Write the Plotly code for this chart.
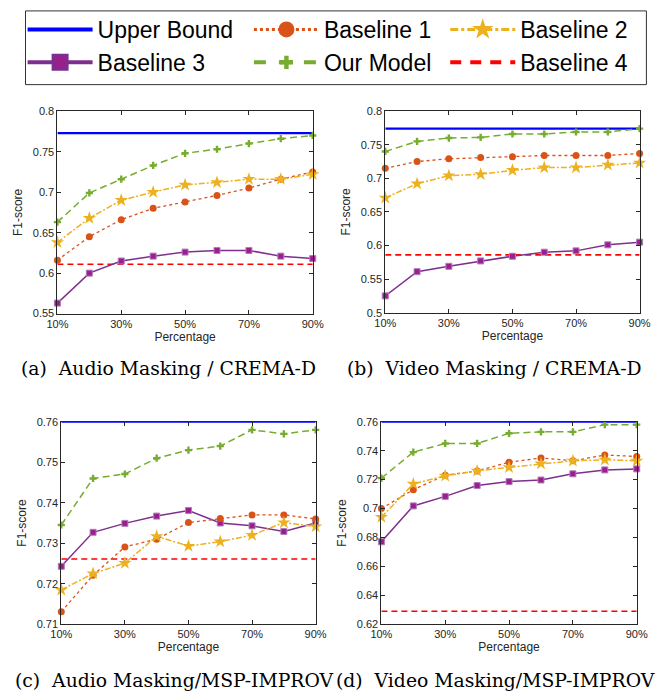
import plotly.graph_objects as go

# ---------------- data ----------------
pct = [10, 20, 30, 40, 50, 60, 70, 80, 90]
xtick_vals = [10, 30, 50, 70, 90]
xtick_text = ["10%", "30%", "50%", "70%", "90%"]

# (a) Audio Masking / CREMA-D
a_upper = 0.773
a_base1 = [0.616, 0.645, 0.666, 0.680, 0.688, 0.696, 0.705, 0.716, 0.725]
a_base2 = [0.638, 0.668, 0.690, 0.700, 0.709, 0.712, 0.716, 0.716, 0.722]
a_base3 = [0.563, 0.600, 0.615, 0.621, 0.626, 0.628, 0.628, 0.621, 0.618]
a_ours = [0.663, 0.699, 0.716, 0.733, 0.748, 0.753, 0.760, 0.766, 0.770]
a_base4 = 0.611

# (b) Video Masking / CREMA-D
b_upper = 0.774
b_base1 = [0.715, 0.725, 0.729, 0.731, 0.732, 0.734, 0.734, 0.734, 0.737]
b_base2 = [0.671, 0.692, 0.704, 0.706, 0.712, 0.716, 0.716, 0.720, 0.723]
b_base3 = [0.525, 0.561, 0.569, 0.577, 0.584, 0.590, 0.592, 0.601, 0.605]
b_ours = [0.740, 0.755, 0.760, 0.761, 0.766, 0.766, 0.769, 0.769, 0.774]
b_base4 = 0.586

# (c) Audio Masking / MSP-IMPROV
c_upper = 0.760
c_base1 = [0.7131, 0.7221, 0.7291, 0.7310, 0.7351, 0.7361, 0.7370, 0.7370, 0.7360]
c_base2 = [0.7185, 0.7225, 0.7251, 0.7317, 0.7293, 0.7304, 0.7320, 0.7351, 0.7341]
c_base3 = [0.7243, 0.7327, 0.7349, 0.7367, 0.7381, 0.7350, 0.7343, 0.7329, 0.7350]
c_ours = [0.7345, 0.7460, 0.7471, 0.7510, 0.7530, 0.7540, 0.7580, 0.7570, 0.7580]
c_base4 = 0.7261

# (d) Video Masking / MSP-IMPROV
d_upper = 0.760
d_base1 = [0.700, 0.713, 0.723, 0.726, 0.732, 0.735, 0.733, 0.737, 0.736]
d_base2 = [0.694, 0.717, 0.7226, 0.726, 0.7285, 0.731, 0.733, 0.7337, 0.733]
d_base3 = [0.677, 0.7018, 0.7084, 0.7159, 0.7186, 0.7197, 0.724, 0.7267, 0.7274]
d_ours = [0.721, 0.739, 0.745, 0.745, 0.752, 0.753, 0.753, 0.758, 0.758]
d_base4 = 0.629

panels = [
    dict(upper=a_upper, b1=a_base1, b2=a_base2, b3=a_base3, ours=a_ours, b4=a_base4,
         yr=[0.55, 0.8], dt=0.05, cap="(a)  Audio Masking / CREMA-D"),
    dict(upper=b_upper, b1=b_base1, b2=b_base2, b3=b_base3, ours=b_ours, b4=b_base4,
         yr=[0.5, 0.8], dt=0.05, cap="(b)  Video Masking / CREMA-D"),
    dict(upper=c_upper, b1=c_base1, b2=c_base2, b3=c_base3, ours=c_ours, b4=c_base4,
         yr=[0.71, 0.76], dt=0.01, cap="(c)  Audio Masking/MSP-IMPROV"),
    dict(upper=d_upper, b1=d_base1, b2=d_base2, b3=d_base3, ours=d_ours, b4=d_base4,
         yr=[0.62, 0.76], dt=0.02, cap="(d)  Video Masking/MSP-IMPROV"),
]

# ---------------- layout geometry (pixels) ----------------
W, H = 669, 700
boxes = [  # left, right, top, bottom
    (48, 312, 107, 313),
    (387, 650, 107, 312),
    (52, 315, 423, 629),
    (383, 647, 423, 629),
]
cap_pos = [(163, 369), (500, 369), (169, 686), (501, 686)]

C_UP = "#0000FF"
C_B1 = "#D95319"
C_B2 = "#EDB120"
C_B3 = "#7E2F8E"
C_OURS = "#77AC30"
C_B4 = "#FF0000"
AX = "#262626"

fig = go.Figure()
layout = dict(width=W, height=H, margin=dict(l=0, r=0, t=0, b=0),
              paper_bgcolor="white", plot_bgcolor="white", showlegend=True)
annotations = []

for i, (p, (l, r, t, b)) in enumerate(zip(panels, boxes)):
    n = "" if i == 0 else str(i + 1)
    xa, ya = "x" + n, "y" + n
    kw = dict(xaxis=xa, yaxis=ya, showlegend=False, cliponaxis=False)
    fig.add_trace(go.Scatter(x=[pct[0], pct[-1]], y=[p["upper"], p["upper"]], mode="lines",
                             line=dict(color=C_UP, width=2.2), **kw))
    fig.add_trace(go.Scatter(x=[pct[0], pct[-1]], y=[p["b4"], p["b4"]], mode="lines",
                             line=dict(color=C_B4, width=1.6, dash="6px,4px"), **kw))
    fig.add_trace(go.Scatter(x=pct, y=p["b3"], mode="lines+markers",
                             line=dict(color=C_B3, width=1.5),
                             marker=dict(symbol="square", size=6, color="#9B1F8A",
                                         line=dict(color="#B07CC0", width=1)), **kw))
    fig.add_trace(go.Scatter(x=pct, y=p["b1"], mode="lines+markers",
                             line=dict(color=C_B1, width=1.3, dash="dot"),
                             marker=dict(symbol="circle", size=7, color=C_B1), **kw))
    fig.add_trace(go.Scatter(x=pct, y=p["b2"], mode="lines+markers",
                             line=dict(color=C_B2, width=1.5, dash="6px,2px,2px,2px"),
                             marker=dict(symbol="star", size=10, color=C_B2), **kw))
    fig.add_trace(go.Scatter(x=pct, y=p["ours"], mode="lines+markers",
                             line=dict(color=C_OURS, width=1.5, dash="7px,4px"),
                             marker=dict(symbol="cross", size=6, color=C_OURS), **kw))

    xkey = "xaxis" + n
    ykey = "yaxis" + n
    layout[xkey] = dict(
        domain=[l / W, r / W], anchor=ya, range=[10, 90],
        tickvals=xtick_vals, ticktext=xtick_text,
        ticks="inside", ticklen=4, tickcolor=AX, showline=True, linecolor=AX,
        linewidth=1, mirror="ticks", showgrid=False, zeroline=False,
        tickfont=dict(family="Liberation Sans", size=11, color=AX),
        title=dict(text="Percentage", standoff=3,
                   font=dict(family="Liberation Sans", size=12, color=AX)),
    )
    layout[ykey] = dict(
        domain=[1 - b / H, 1 - t / H], anchor=xa, range=p["yr"], dtick=p["dt"],
        tick0=p["yr"][0],
        ticks="inside", ticklen=4, tickcolor=AX, showline=True, linecolor=AX,
        linewidth=1, mirror="ticks", showgrid=False, zeroline=False,
        tickfont=dict(family="Liberation Sans", size=11, color=AX),
        title=dict(text="F1-score", standoff=7,
                   font=dict(family="Liberation Sans", size=12, color=AX)),
    )
    cx, cy = cap_pos[i]
    annotations.append(dict(text=p["cap"], x=cx / W, y=1 - cy / H, xref="paper", yref="paper",
                            showarrow=False, xanchor="center", yanchor="middle",
                            font=dict(family="DejaVu Serif", size=18.8, color="black")))

# ---------------- legend-only traces (three columns) ----------------
def leg(name, lg):
    return dict(name=name, legend=lg, x=[None], y=[None], xaxis="x", yaxis="y", showlegend=True)

fig.add_trace(go.Scatter(mode="lines", line=dict(color=C_UP, width=4), **leg("Upper Bound", "legend")))
fig.add_trace(go.Scatter(mode="lines+markers", line=dict(color=C_B3, width=4),
                         marker=dict(symbol="square", size=14, color="#9B1F8A",
                                     line=dict(color=C_B3, width=3)), **leg("Baseline 3", "legend")))
fig.add_trace(go.Scatter(mode="lines+markers", line=dict(color=C_B1, width=3, dash="dot"),
                         marker=dict(symbol="circle", size=16, color=C_B1), **leg("Baseline 1", "legend2")))
fig.add_trace(go.Scatter(mode="lines+markers", line=dict(color=C_OURS, width=4, dash="12px,13px"),
                         marker=dict(symbol="cross", size=11, color=C_OURS), **leg("Our Model", "legend2")))
fig.add_trace(go.Scatter(mode="lines+markers", line=dict(color=C_B2, width=3, dash="8px,3px,3px,3px"),
                         marker=dict(symbol="star", size=20, color=C_B2), **leg("Baseline 2", "legend3")))
fig.add_trace(go.Scatter(mode="lines", line=dict(color=C_B4, width=4, dash="11px,9px"),
                         **leg("Baseline 4", "legend3")))

leg_common = dict(orientation="v", y=1 - 2 / H, xanchor="left", yanchor="top",
                  borderwidth=0, bgcolor="rgba(0,0,0,0)",
                  font=dict(family="Liberation Sans", size=23, color="black"),
                  itemwidth=65, tracegroupgap=0)
layout["legend"] = dict(x=12 / W, **leg_common)
layout["legend2"] = dict(x=246 / W, **leg_common)
layout["legend3"] = dict(x=449 / W, **leg_common)
layout["shapes"] = [dict(type="rect", xref="paper", yref="paper",
                         x0=15 / W, x1=657 / W, y0=1 - 80 / H, y1=1 - 5 / H,
                         line=dict(color="#333333", width=1), fillcolor="rgba(0,0,0,0)")]
layout["annotations"] = annotations
fig.update_layout(**layout)
fig.write_html("out.html")
